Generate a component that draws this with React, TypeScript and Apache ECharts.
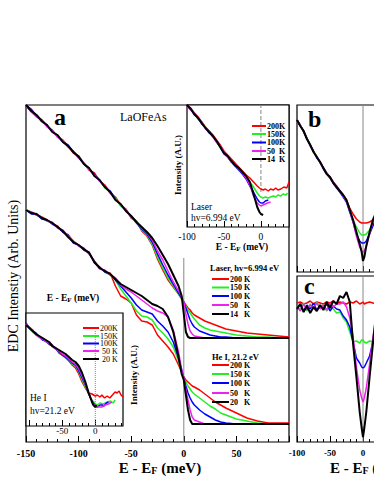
import { useEffect, useRef } from 'react';
import * as echarts from 'echarts';

const SERIF = '"Liberation Serif", "DejaVu Serif", serif';
const COLORS = ['#ff0000', '#22ee22', '#0000ff', '#ee22ee', '#000000'];

// ---------- Panel a: main EDCs (energy in meV, intensity arb. units) ----------
const mainE = [-150,-145,-140,-135,-130,-125,-120,-115,-110,-105,-100,-95,-90,-85,-80,-75,-70,-65,-60,-55,-50,-45,
  -40,-35,-30,-25,-20,-15,-10,-5,-2,0,2,4,6,8,10,15,20,25,30,35,40,50,60,70,80,90,100];
const laser200 = [337,333,326,322,316,312,305,302,296,289,286,279,272,269,261,257,249,245,237,233,224,221,
  211,206,197,183,172,162,155,148,143,140,137,134,132,129,127,124,121,119,117,115,113,111,109,108,107,106,105];
const laser150 = [336,331,327,320,317,310,306,301,295,291,285,279,273,268,262,254,250,244,236,232,225,221,
  212,207,198,185,174,164,156,148,143,140,136,132,129,126,123,117,114,112,111,110,109,107,106,105,105,104,104];
const laser100 = [337,332,326,322,316,311,306,300,297,290,286,278,273,268,261,255,251,243,237,231,226,219,
  213,208,200,188,177,167,158,149,144,140,134,128,122,118,115,111,109,107,106,105,105,104,104,104,104,104,104];
const laser50 = [336,330,325,322,315,311,305,301,295,291,284,279,272,267,261,256,249,243,237,232,225,220,
  214,209,202,191,182,171,160,151,145,140,128,118,111,108,106,105,104,104,104,104,104,104,104,104,104,104,104];
const laser14 = [337,331,327,321,317,310,307,300,296,290,285,278,274,266,262,255,250,242,238,231,226,220,
  215,210,204,196,187,178,167,156,146,128,110,105,104,104,104,104,104,104,104,104,104,104,104,104,104,104,104];

const heE = [-150,-145,-140,-135,-130,-125,-120,-115,-110,-105,-100,-95,-90,-85,-80,-75,-70,-65,
  -60,-55,-50,-45,-40,-35,-30,-25,-20,-15,-10,-5,-2,0,2,4,6,8,10,15,20,25,30,35,40,50,60,70,80,90,100];
const he200 = [232,230,227,225,222,218,216,210,207,201,197,192,189,180,175,170,169,156,
  146,143,139,127,121,120,117,107,101,95,88,77,70,65,62,60,58,56,55,52,48,44,40,37,34,29,24,21,19,19,19];
const he150 = [233,229,227,224,221,220,214,211,206,201,196,193,188,181,174,170,167,162,
  153,146,139,131,126,125,122,114,109,103,95,81,70,64,60,56,53,50,48,44,40,36,33,29,27,23,21,19,18,18,18];
const he100 = [232,228,228,223,222,218,215,210,207,199,197,192,190,179,175,170,168,162,
  156,150,144,137,132,130,128,121,116,110,100,84,72,64,56,49,44,40,37,32,28,25,22,20,19,18,18,18,18,18,18];
const he50 = [231,230,227,225,221,219,214,212,206,201,196,194,188,181,173,172,167,164,
  157,153,150,146,142,138,134,131,129,125,112,90,72,64,52,42,32,25,22,20,18,18,18,18,18,18,18,18,18,18,18];
const he20 = [232,229,228,224,222,219,215,211,205,200,197,193,189,180,174,171,168,163,
  158,155,152,149,146,142,138,136,133,125,110,85,68,62,47,32,22,18,18,18,18,18,18,18,18,18,18,18,18,18,18];

// ---------- Laser inset ----------
const insFrontE = [-100,-95,-90,-85,-80,-75,-70,-65,-60,-55,-50,-45,-40,-35,-30,-25,-20];
const insL200E = [...insFrontE, -15,-10,-5,-2,0,3,6,10,13,17,20,23,27,31,35,38];
const insL200 = [122,119,114,110,105,100,96,92,87,82,76,72,68,64,60,56,52, 49,45,41,39,38,37,38,36,38,37,39,37,38,40,39,45];
const insL150E = [...insFrontE, -15,-10,-5,-2,0,3,6,10,13,17,20,23,27,30,34,36];
const insL150 = [121,118,113,108,104,100,95,90,86,79,74,70,66,61,58,54,49, 45,40,34,31,30,29,30,29,30,31,30,32,31,33,32,34];
const insL100E = [...insFrontE, -15,-10,-5,-2,0,3,6,10];
const insL100 = [122,118,112,109,103,99,94,91,85,80,73,70,65,61,57,53,48, 41,35,28,25,24,24,26,27];
const insL50E = [...insFrontE, -15,-10,-5,-2,0,3,6,9,13];
const insL50 = [121,117,114,108,105,98,96,90,85,81,75,70,65,63,58,54,49, 42,31,24,22,21,22,23,24,25];
const insL14E = [...insFrontE, -15,-10,-5,-2,0,3];
const insL14 = [122,118,113,109,104,99,95,91,86,80,74,71,66,62,59,55,51, 45,33,20,15,13,12];

// ---------- He I inset ----------
const insHFrontE = [-105,-100,-95,-90,-85,-80,-75,-70,-65,-60,-55,-50,-45,-40,-35,-30];
const insH200E = [...insHFrontE, -25,-20,-15,-10,-5,0,3,7,10,14,18,22,26,30,33,36,39,42];
const insH200 = [101,99,96,92,89,88,85,82,80,78,73,71,68,65,61,58, 52,44,38,33,32,30,31,29,31,28,30,28,31,34,33,35,31,29];
const insH150E = [...insHFrontE, -25,-20,-15,-10,-5,0,3,7,12,18,23,27,30];
const insH150 = [102,99,94,92,90,87,84,83,79,77,74,71,68,66,62,60, 54,46,39,32,26,22,21,23,22,24,25,23,26];
const insH100E = [...insHFrontE, -25,-20,-15,-10,-5,0,3,7,10,13,17,20];
const insH100 = [103,98,95,93,89,86,85,82,80,77,74,71,69,66,63,61, 55,48,41,32,25,20,19,21,21,20,23,24];
const insH50E = [...insHFrontE, -25,-20,-15,-10,-5,0,5,10,15,20,25];
const insH50 = [102,99,96,91,89,87,85,83,81,77,75,72,70,67,64,62, 57,50,42,33,25,19,19,19,21,22,24];
const insH20E = [...insHFrontE, -25,-20,-15,-10,-5,-3,0,2];
const insH20 = [101,98,95,92,90,88,86,84,80,78,76,74,72,69,66,64, 60,53,44,33,24,21,19,21];

// ---------- Panel b ----------
const bE = [-100,-95,-90,-85,-80,-75,-70,-65,-60,-55,-50,-45,-40,-35,-30,-25,-20,-15,-10,-5,-2,0,2,5,10,15,20];
const b200 = [152,147,141,134,127,121,115,110,104,99,95,90,86,81,77,72,64,58,53,50,49,49,49,49,50,52,55];
const b150 = [151,146,140,134,128,120,116,109,103,99,94,89,85,80,76,70,60,52,45,39,37,37,37,38,42,48,55];
const b100 = [152,146,141,133,127,121,114,110,103,98,94,89,84,80,75,70,60,50,38,31,29,29,29,31,38,46,55];
const b50 = [151,147,140,134,126,121,115,109,104,99,94,90,85,81,76,71,61,50,36,25,21,20,21,26,38,50,58];
const b14 = [152,146,141,133,127,120,115,110,104,98,95,89,85,81,77,72,62,52,40,28,20,11,15,26,40,52,60];

// ---------- Panel c ----------
const cE = [-100,-95,-90,-85,-80,-75,-70,-65,-60,-55,-50,-45,-40,-35,-30,-25,-20,-15,-10,-5,-2,0,2,5,10,15,20];
const c200 = [139,140,138,139,141,138,140,139,138,140,139,141,138,140,139,138,140,139,141,138,139,140,138,139,140,139,138];
const c150 = [136,132,139,131,138,133,140,134,137,131,136,133,129,130,124,120,110,100,101,99,102,102,100,99,101,100,110];
const c100 = [134,138,131,137,133,139,132,136,134,138,131,136,133,132,126,122,115,100,84,79,75,74,75,79,86,100,115];
const c50 = [135,131,138,132,137,134,139,133,137,132,139,135,138,138,140,135,124,105,75,52,44,40,44,54,78,105,124];
const c14 = [133,138,130,136,129,135,131,137,132,140,134,141,138,146,144,150,140,98,65,30,14,5,14,30,65,98,130];

// zero reference lines [E, from, to]
const zeroMain = [0, 0, 184];
const zeroLaserInset = [0, 35, 122];
const zeroHeInset = [0, 0, 96];
const zeroB = [0, 0, 167];
const zeroC = [0, 0, 166];

const mainTicks = [-150, -100, -50, 0, 50, 100];
const mainLabels = [-150, -100, -50, 0, 50];
const insetTicks = [-100, -50, 0];
const heInsetLabels = [-50, 0];

const range = (a: number, b: number, s: number) => { const r: number[] = []; for (let v = a; v <= b; v += s) r.push(v); return r; };
const zip = (E: number[], V: number[]) => E.map((e, i) => [e, V[i]]);

function xPair(grid: number, min: number, max: number, majors: number[], minors: number[], labels: any) {
  const base = {
    type: 'value', gridIndex: grid, min, max, position: 'bottom',
    axisLine: { show: false, onZero: false }, splitLine: { show: false },
  };
  return [
    {
      ...base,
      axisTick: { show: true, inside: true, length: 6, customValues: majors, lineStyle: { color: '#000', width: 1 } },
      axisLabel: labels ? { show: true, customValues: labels.values, hideOverlap: false, color: '#000', fontFamily: SERIF, fontSize: labels.size, fontWeight: labels.weight, margin: labels.margin } : { show: false },
    },
    {
      ...base,
      axisTick: { show: true, inside: true, length: 3, customValues: minors, lineStyle: { color: '#000', width: 1 } },
      axisLabel: { show: false },
    },
  ];
}

function seriesSet(xi: number, yi: number, sets: [number[], number[]][]) {
  return sets.map(([E, V], i) => ({
    type: 'line', xAxisIndex: xi, yAxisIndex: yi, data: zip(E, V), showSymbol: false, symbol: 'none',
    lineStyle: { color: COLORS[i], width: i === 4 ? 2 : 1.5 }, z: 2 + i, silent: true,
  }));
}

function zeroLine(xi: number, yi: number, z: number[], type: any) {
  return {
    type: 'line', xAxisIndex: xi, yAxisIndex: yi, data: [[z[0], z[1]], [z[0], z[2]]], showSymbol: false, symbol: 'none',
    lineStyle: { color: '#888', width: 1, type }, z: 1, silent: true,
  };
}

const txt = (x: number, y: number, text: string, o: any = {}) => ({
  type: 'text', x, y, rotation: o.rot || 0, z: 100,
  style: { text, fontFamily: SERIF, fontSize: o.size || 10, fontWeight: o.bold ? 'bold' : 'normal', fill: '#000', align: o.align || 'left', verticalAlign: 'middle' },
});

const efText = (x: number, y: number, size: number, sub: number, o: any = {}) => ({
  type: 'text', x, y, rotation: o.rot || 0, z: 100,
  style: {
    text: '{a|E - E}{b|F}{a| (meV)}', align: o.align || 'center', verticalAlign: 'middle',
    rich: {
      a: { fontFamily: SERIF, fontSize: size, fontWeight: 'bold', fill: '#000' },
      b: { fontFamily: SERIF, fontSize: sub, fontWeight: 'bold', fill: '#000', verticalAlign: 'bottom' },
    },
  },
});

function legend(x0: number, x1: number, tx: number, ys: number[], labels: string[], size: number, bold: boolean) {
  const els: any[] = [];
  ys.forEach((y, i) => {
    els.push({ type: 'line', z: 100, shape: { x1: x0, y1: y, x2: x1, y2: y }, style: { stroke: COLORS[i], lineWidth: 2 } });
    els.push(txt(tx, y, labels[i], { size, bold }));
  });
  return els;
}

export default function App() {
  const ref = useRef<HTMLDivElement>(null);
  useEffect(() => {
    if (!ref.current) return;
    const chart = echarts.init(ref.current, null, { renderer: 'svg' });
    const gridStyle = { show: true, borderColor: '#000', borderWidth: 1.2, backgroundColor: '#fff', containLabel: false, outerBoundsMode: 'none' };
    const option: any = {
      animation: false,
      grid: [
        { left: 26, top: 105, width: 263, height: 337, ...gridStyle },
        { left: 187, top: 105, width: 102, height: 122, ...gridStyle },
        { left: 26, top: 313, width: 97, height: 113, ...gridStyle },
        { left: 297, top: 105, width: 92.4, height: 167, ...gridStyle },
        { left: 297, top: 276, width: 92.4, height: 166, ...gridStyle },
      ],
      xAxis: [
        ...xPair(0, -150, 100, mainTicks, range(-140, 90, 10), { values: mainLabels, size: 10, weight: 'bold', margin: 6 }),
        ...xPair(1, -100, 38, insetTicks, range(-90, 30, 10), { values: insetTicks, size: 9.5, weight: 'normal', margin: 5 }),
        ...xPair(2, -105, 42, insetTicks, range(-90, 40, 10), { values: heInsetLabels, size: 9, weight: 'normal', margin: 0 }),
        ...xPair(3, -100, 40, insetTicks, range(-90, 30, 10), null),
        ...xPair(4, -100, 40, insetTicks, range(-90, 30, 10), { values: insetTicks, size: 9, weight: 'bold', margin: 6 }),
      ],
      yAxis: [
        { type: 'value', gridIndex: 0, min: 0, max: 337, show: false },
        { type: 'value', gridIndex: 1, min: 0, max: 122, show: false },
        { type: 'value', gridIndex: 2, min: 0, max: 113, show: false },
        { type: 'value', gridIndex: 3, min: 0, max: 167, show: false },
        { type: 'value', gridIndex: 4, min: 0, max: 166, show: false },
      ],
      series: [
        zeroLine(0, 0, zeroMain, 'solid'),
        zeroLine(2, 1, zeroLaserInset, 'dashed'),
        zeroLine(4, 2, zeroHeInset, 'dotted'),
        zeroLine(6, 3, zeroB, 'solid'),
        zeroLine(8, 4, zeroC, 'solid'),
        ...seriesSet(0, 0, [[mainE, laser200], [mainE, laser150], [mainE, laser100], [mainE, laser50], [mainE, laser14]]),
        ...seriesSet(0, 0, [[heE, he200], [heE, he150], [heE, he100], [heE, he50], [heE, he20]]),
        ...seriesSet(2, 1, [[insL200E, insL200], [insL150E, insL150], [insL100E, insL100], [insL50E, insL50], [insL14E, insL14]]),
        ...seriesSet(4, 2, [[insH200E, insH200], [insH150E, insH150], [insH100E, insH100], [insH50E, insH50], [insH20E, insH20]]),
        ...seriesSet(6, 3, [[bE, b200], [bE, b150], [bE, b100], [bE, b50], [bE, b14]]),
        ...seriesSet(8, 4, [[cE, c200], [cE, c150], [cE, c100], [cE, c50], [cE, c14]]),
      ],
      graphic: [
        txt(13, 276, 'EDC Intenstiy (Arb. Units)', { size: 14, rot: Math.PI / 2, align: 'center' }),
        efText(160, 468, 15, 10),
        efText(330, 468, 15, 10, { align: 'left' }),
        txt(54, 117, 'a', { size: 24, bold: true }),
        txt(308, 119, 'b', { size: 24, bold: true }),
        txt(304, 286, 'c', { size: 24, bold: true }),
        txt(120, 117, 'LaOFeAs', { size: 12 }),
        // laser inset
        txt(178, 165, 'Intensity (A.U.)', { size: 9, bold: true, rot: Math.PI / 2, align: 'center' }),
        efText(242, 247, 9.5, 7),
        txt(191, 207, 'Laser', { size: 9.5 }),
        txt(191, 218, 'hv=6.994 eV', { size: 9.5 }),
        ...legend(252, 266, 267, [126, 134, 142.5, 151, 159], ['200K', '150K', '100K', '50  K', '14  K'], 8, true),
        // main legends
        txt(210, 268, 'Laser, hv=6.994 eV', { size: 8.5, bold: true }),
        ...legend(212, 229, 230, [279, 287.5, 296, 305, 314], ['200 K', '150 K', '100 K', '50   K', '14   K'], 8, true),
        txt(212, 357, 'He I, 21.2 eV', { size: 8.5, bold: true }),
        ...legend(212, 229, 230, [365, 374, 383, 393, 402], ['200 K', '150 K', '100 K', '50   K', '20   K'], 8, true),
        // He I inset
        efText(73, 298, 9.5, 7),
        txt(134, 375, 'Intensity (A.U.)', { size: 9, bold: true, rot: Math.PI / 2, align: 'center' }),
        txt(30, 398, 'He I', { size: 9.5 }),
        txt(30, 411, 'hv=21.2 eV', { size: 9.5 }),
        ...legend(83, 99, 100, [328, 336, 343.5, 351, 359], ['200K', '150K', '100K', ' 50 K', ' 20 K'], 8, false),
      ],
    };
    chart.setOption(option);
    return () => chart.dispose();
  }, []);
  return <div ref={ref} style={{ width: 374, height: 484, position: 'absolute', left: 0, top: 0, background: '#fff' }} />;
}
